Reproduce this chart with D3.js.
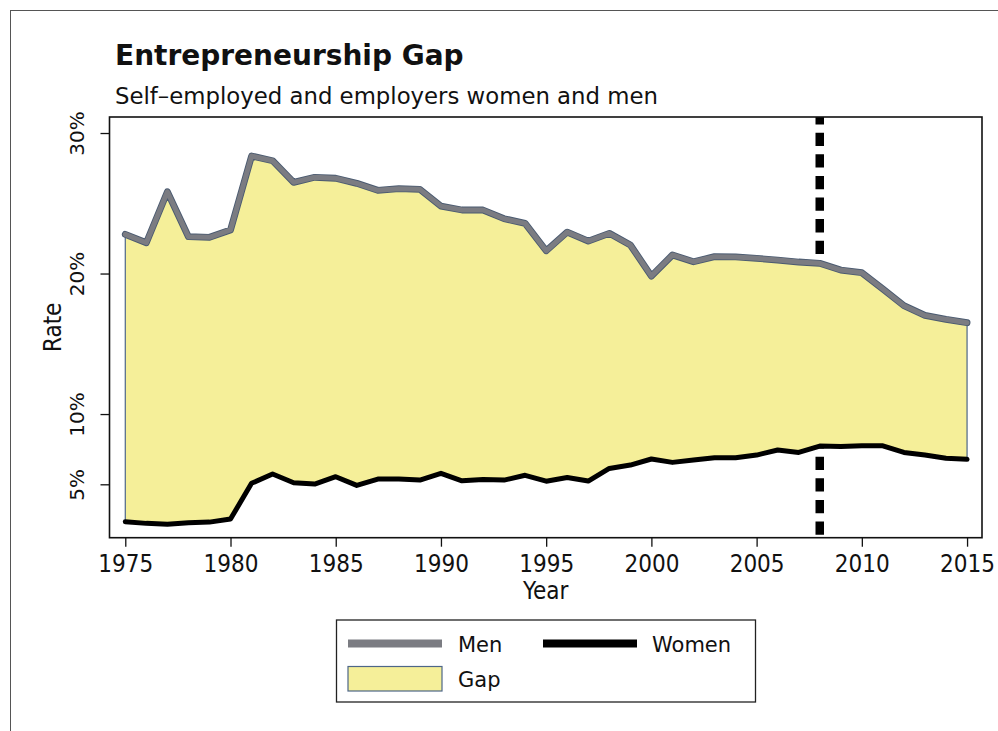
<!DOCTYPE html>
<html>
<head>
<meta charset="utf-8">
<script src="https://cdn.jsdelivr.net/npm/d3@7"></script>
<style>
  html, body { margin: 0; padding: 0; background: #fff; }
  svg { display: block; }
  text { font-family: "DejaVu Sans", sans-serif; fill: #111; }
  .cond { font-family: "DejaVu Sans Condensed", "DejaVu Sans", sans-serif; font-stretch: condensed; }
</style>
</head>
<body>
<svg id="chart" width="998" height="731"></svg>
<script>
const years = [1975,1976,1977,1978,1979,1980,1981,1982,1983,1984,1985,1986,1987,1988,1989,1990,1991,1992,1993,1994,1995,1996,1997,1998,1999,2000,2001,2002,2003,2004,2005,2006,2007,2008,2009,2010,2011,2012,2013,2014,2015];
const men = [22.79,22.19,25.82,22.62,22.58,23.10,28.36,28.03,26.49,26.85,26.78,26.42,25.92,26.04,25.99,24.80,24.52,24.52,23.90,23.57,21.62,22.95,22.31,22.86,22.03,19.82,21.32,20.84,21.20,21.18,21.08,20.96,20.82,20.73,20.25,20.06,18.90,17.71,17.02,16.74,16.50];
const women = [2.34,2.22,2.15,2.27,2.31,2.53,5.07,5.73,5.11,5.02,5.54,4.92,5.37,5.37,5.30,5.78,5.25,5.35,5.30,5.64,5.22,5.49,5.23,6.13,6.37,6.80,6.56,6.73,6.89,6.89,7.08,7.44,7.27,7.72,7.69,7.74,7.74,7.27,7.08,6.85,6.78];
const xTicks = [1975,1980,1985,1990,1995,2000,2005,2010,2015];
const yTicks = [5,10,20,30];
const markerYear = [2008];
const title = "Entrepreneurship Gap";
const subtitle = "Self\u2013employed and employers women and men";
const legendItems = ["Men","Women","Gap"];

const svg = d3.select("#chart");
const plot = {left: 109.5, right: 982, top: 117, bottom: 537.7};

const x = d3.scaleLinear().domain([1974.25, 2015.71]).range([plot.left, plot.right]);
const y = d3.scaleLinear().domain([1.2, 31.14]).range([plot.bottom, plot.top]);

const data = years.map((yr, i) => ({year: yr, men: men[i], women: women[i]}));

// outer frame
svg.append("rect").attr("x", 10.5).attr("y", 10.5).attr("width", 1100).attr("height", 1100)
  .attr("fill", "none").attr("stroke", "#555").attr("stroke-width", 1);

// title
svg.append("text").attr("x", 115).attr("y", 65).attr("font-size", 28).attr("font-weight", "bold").text(title);
svg.append("text").attr("x", 115).attr("y", 104).attr("font-size", 22.8).text(subtitle);

// dashed marker line (behind area)
svg.selectAll("line.marker").data(markerYear).enter().append("line")
  .attr("x1", d => x(d)).attr("x2", d => x(d))
  .attr("y1", plot.top).attr("y2", plot.bottom)
  .attr("stroke", "#000").attr("stroke-width", 8.5)
  .attr("stroke-dasharray", "13.3 8.3").attr("stroke-dashoffset", 5.9);

// gap area
const area = d3.area().x(d => x(d.year)).y0(d => y(d.women)).y1(d => y(d.men));
svg.append("path").datum(data).attr("d", area)
  .attr("fill", "#f5ef99").attr("stroke", "#4d6688").attr("stroke-width", 1.2);

// men line
const lineMen = d3.line().x(d => x(d.year)).y(d => y(d.men));
svg.append("path").datum(data).attr("d", lineMen)
  .attr("fill", "none").attr("stroke", "#4a5a70").attr("stroke-width", 6.8)
  .attr("stroke-linejoin", "round").attr("stroke-linecap", "round");
svg.append("path").datum(data).attr("d", lineMen)
  .attr("fill", "none").attr("stroke", "#7b7c82").attr("stroke-width", 5)
  .attr("stroke-linejoin", "round").attr("stroke-linecap", "round");

// women line
const lineWomen = d3.line().x(d => x(d.year)).y(d => y(d.women));
svg.append("path").datum(data).attr("d", lineWomen)
  .attr("fill", "none").attr("stroke", "#000").attr("stroke-width", 5)
  .attr("stroke-linejoin", "round").attr("stroke-linecap", "round");

// plot border
svg.append("rect").attr("x", plot.left).attr("y", plot.top)
  .attr("width", plot.right - plot.left).attr("height", plot.bottom - plot.top)
  .attr("fill", "none").attr("stroke", "#111").attr("stroke-width", 1.6);

// x axis
const xAxis = svg.append("g").attr("transform", `translate(0,${plot.bottom})`)
  .call(d3.axisBottom(x).tickValues(xTicks).tickFormat(d3.format("d")).tickSizeInner(9).tickSizeOuter(0).tickPadding(6));
xAxis.select(".domain").remove();
xAxis.selectAll(".tick line").attr("stroke", "#111").attr("stroke-width", 1.3);
xAxis.selectAll(".tick text").attr("class", "cond").attr("font-size", 24).attr("fill", "#111")
  .attr("font-family", null).attr("dy", null).attr("y", 34);

// y axis
const yAxis = svg.append("g").attr("transform", `translate(${plot.left},0)`)
  .call(d3.axisLeft(y).tickValues(yTicks).tickFormat(d => d + "%").tickSizeInner(9).tickSizeOuter(0));
yAxis.select(".domain").remove();
yAxis.selectAll(".tick line").attr("stroke", "#111").attr("stroke-width", 1.3);
yAxis.selectAll(".tick text")
  .attr("x", null).attr("dy", null).attr("font-family", null)
  .attr("font-size", 20).attr("fill", "#111")
  .attr("text-anchor", "middle")
  .attr("transform", "translate(-26,0) rotate(-90)");

// axis titles
svg.append("text").attr("class", "cond").attr("x", (plot.left + plot.right) / 2).attr("y", 599)
  .attr("text-anchor", "middle").attr("font-size", 24).text("Year");
svg.append("text").attr("class", "cond").attr("transform", `translate(60.5,${(plot.top + plot.bottom) / 2}) rotate(-90)`)
  .attr("text-anchor", "middle").attr("font-size", 24).text("Rate");

// legend
const lg = svg.append("g");
lg.append("rect").attr("x", 336.5).attr("y", 620).attr("width", 419).attr("height", 82)
  .attr("fill", "#fff").attr("stroke", "#222").attr("stroke-width", 1.3);
lg.append("line").attr("x1", 348).attr("x2", 442).attr("y1", 643.5).attr("y2", 643.5)
  .attr("stroke", "#7b7c82").attr("stroke-width", 8);
lg.append("text").attr("x", 458).attr("y", 652).attr("font-size", 21).text(legendItems[0]);
lg.append("line").attr("x1", 543).attr("x2", 637).attr("y1", 643.5).attr("y2", 643.5)
  .attr("stroke", "#000").attr("stroke-width", 8);
lg.append("text").attr("x", 652).attr("y", 652).attr("font-size", 21).text(legendItems[1]);
lg.append("rect").attr("x", 348).attr("y", 666.5).attr("width", 94).attr("height", 24.5)
  .attr("fill", "#f5ef99").attr("stroke", "#4d6688").attr("stroke-width", 1.2);
lg.append("text").attr("x", 458).attr("y", 687).attr("font-size", 21).text(legendItems[2]);
</script>
</body>
</html>
